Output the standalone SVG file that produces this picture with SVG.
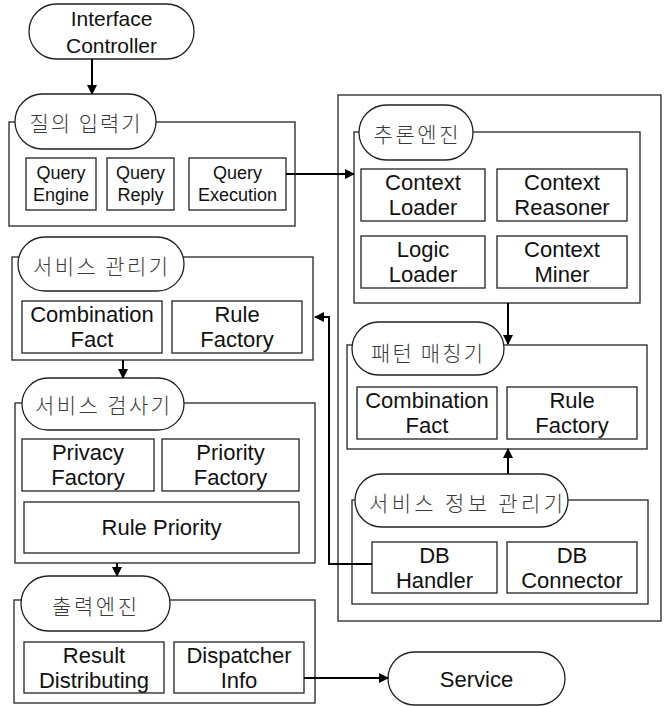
<svg xmlns="http://www.w3.org/2000/svg" width="667" height="706" viewBox="0 0 667 706">
<style>
.grp{fill:none;stroke:#333;stroke-width:1.4}
.box{fill:#fff;stroke:#222;stroke-width:1.3}
.pill{fill:#fff;stroke:#222;stroke-width:1.3}
.t{font-family:"Liberation Sans",Arial,sans-serif;font-size:22px;fill:#111;text-anchor:middle;dominant-baseline:central}
.s{font-size:18px}
.k{font-family:"Noto Sans CJK KR","Noto Sans",sans-serif;font-size:21px;fill:#3a3a3a;font-weight:300;text-anchor:middle;dominant-baseline:central}
.c{fill:none;stroke:#000;stroke-width:2}
</style>
<defs>
<marker id="ah" markerWidth="10" markerHeight="10" refX="9" refY="5" orient="auto" markerUnits="userSpaceOnUse">
<path d="M0,0 L10,5 L0,10 Z" fill="#000"/>
</marker>
</defs>

<g id="interface-controller">
<rect class="pill" x="29" y="4" width="165" height="55" rx="27.5"/>
<text class="t" x="111.5" y="18" style="font-size:21px">Interface</text>
<text class="t" x="111.5" y="45" style="font-size:21px">Controller</text>
</g>

<g id="query-input">
<rect class="grp" x="9" y="122" width="286" height="104"/>
<rect class="pill" x="15" y="94" width="141" height="55" rx="27.5"/>
<text class="k" x="85" y="122" textLength="111" lengthAdjust="spacing">질의 입력기</text>
<rect class="box" x="26" y="158" width="70" height="52"/>
<text class="t s" x="61" y="173">Query</text><text class="t s" x="61" y="195">Engine</text>
<rect class="box" x="107" y="158" width="67" height="52"/>
<text class="t s" x="140.5" y="173">Query</text><text class="t s" x="140.5" y="195">Reply</text>
<rect class="box" x="189" y="158" width="97" height="52"/>
<text class="t s" x="237.5" y="173">Query</text><text class="t s" x="237.5" y="195">Execution</text>
</g>

<g id="outer-engine">
<rect class="grp" x="338" y="95" width="323" height="526"/>
</g>

<g id="inference-engine">
<rect class="grp" x="354" y="132" width="286" height="171"/>
<rect class="pill" x="359" y="105" width="114" height="55" rx="27.5"/>
<text class="k" x="416" y="133" textLength="85" lengthAdjust="spacing">추론엔진</text>
<rect class="box" x="361" y="169" width="124" height="52"/>
<text class="t" x="423" y="182.5">Context</text><text class="t" x="423" y="207.5">Loader</text>
<rect class="box" x="497" y="169" width="130" height="52"/>
<text class="t" x="562" y="182.5">Context</text><text class="t" x="562" y="207.5">Reasoner</text>
<rect class="box" x="361" y="236" width="124" height="52"/>
<text class="t" x="423" y="249.5">Logic</text><text class="t" x="423" y="274.5">Loader</text>
<rect class="box" x="497" y="236" width="130" height="52"/>
<text class="t" x="562" y="249.5">Context</text><text class="t" x="562" y="274.5">Miner</text>
</g>

<g id="pattern-matcher">
<rect class="grp" x="347" y="345" width="300" height="104"/>
<rect class="pill" x="352" y="322" width="152" height="53" rx="26.5"/>
<text class="k" x="427" y="352" textLength="112" lengthAdjust="spacing">패턴 매칭기</text>
<rect class="box" x="357" y="387" width="140" height="52"/>
<text class="t" x="427" y="400.5">Combination</text><text class="t" x="427" y="425.5">Fact</text>
<rect class="box" x="507" y="387" width="130" height="52"/>
<text class="t" x="572" y="400.5">Rule</text><text class="t" x="572" y="425.5">Factory</text>
</g>

<g id="service-info-manager">
<rect class="grp" x="352" y="500" width="296" height="104"/>
<rect class="pill" x="355" y="474" width="213" height="53" rx="26.5"/>
<text class="k" x="466" y="502" textLength="194" lengthAdjust="spacing">서비스 정보 관리기</text>
<rect class="box" x="372" y="542" width="125" height="51"/>
<text class="t" x="434.5" y="555">DB</text><text class="t" x="434.5" y="580">Handler</text>
<rect class="box" x="507" y="542" width="130" height="51"/>
<text class="t" x="572" y="555">DB</text><text class="t" x="572" y="580">Connector</text>
</g>

<g id="service-manager">
<rect class="grp" x="12" y="257" width="301" height="103"/>
<rect class="pill" x="18" y="237" width="166" height="54" rx="27"/>
<text class="k" x="100.5" y="265" textLength="135" lengthAdjust="spacing">서비스 관리기</text>
<rect class="box" x="22" y="301" width="140" height="52"/>
<text class="t" x="92" y="314.5">Combination</text><text class="t" x="92" y="339.5">Fact</text>
<rect class="box" x="172" y="301" width="130" height="52"/>
<text class="t" x="237" y="314.5">Rule</text><text class="t" x="237" y="339.5">Factory</text>
</g>

<g id="service-checker">
<rect class="grp" x="15" y="403" width="300" height="160"/>
<rect class="pill" x="22" y="378" width="162" height="52" rx="26"/>
<text class="k" x="102.5" y="404" textLength="135" lengthAdjust="spacing">서비스 검사기</text>
<rect class="box" x="22" y="439" width="132" height="52"/>
<text class="t" x="88" y="452.5">Privacy</text><text class="t" x="88" y="477.5">Factory</text>
<rect class="box" x="162" y="439" width="137" height="52"/>
<text class="t" x="230.5" y="452.5">Priority</text><text class="t" x="230.5" y="477.5">Factory</text>
<rect class="box" x="24" y="502" width="275" height="51"/>
<text class="t" x="161.5" y="527.5">Rule Priority</text>
</g>

<g id="output-engine">
<rect class="grp" x="14" y="600" width="301" height="103"/>
<rect class="pill" x="21" y="576" width="149" height="55" rx="27.5"/>
<text class="k" x="94.5" y="605" textLength="85" lengthAdjust="spacing">출력엔진</text>
<rect class="box" x="24" y="642" width="140" height="51"/>
<text class="t" x="94" y="655">Result</text><text class="t" x="94" y="680">Distributing</text>
<rect class="box" x="174" y="642" width="130" height="51"/>
<text class="t" x="239" y="655">Dispatcher</text><text class="t" x="239" y="680">Info</text>
</g>

<g id="service">
<rect class="pill" x="388" y="652" width="177" height="53" rx="26.5"/>
<text class="t" x="476.5" y="679">Service</text>
</g>

<g id="connectors">
<path class="c" d="M92,59 L92,94" marker-end="url(#ah)"/>
<path class="c" d="M286,174 L354,174" marker-end="url(#ah)"/>
<path class="c" d="M508,303 L508,344" marker-end="url(#ah)"/>
<path class="c" d="M508,474 L508,449" marker-end="url(#ah)"/>
<path class="c" d="M372,564 L329,564 L329,317 L315,317" marker-end="url(#ah)"/>
<path class="c" d="M123,360 L123,378" marker-end="url(#ah)"/>
<path class="c" d="M117,563 L117,576" marker-end="url(#ah)"/>
<path class="c" d="M304,678 L388,678" marker-end="url(#ah)"/>
</g>
</svg>
